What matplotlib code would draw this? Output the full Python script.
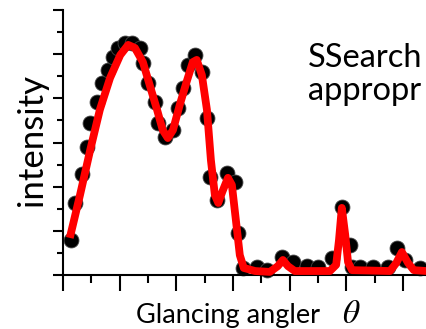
import matplotlib
matplotlib.use('Agg')
import matplotlib.pyplot as plt
from matplotlib.ticker import MultipleLocator

plt.rcParams['font.family'] = ['Lato', 'DejaVu Sans']
plt.rcParams['mathtext.fontset'] = 'stix'

# measured points (glancing angle, intensity)
angle = [0.14, 0.21, 0.34, 0.42, 0.48, 0.60, 0.69, 0.79, 0.88, 0.97, 1.09, 1.22,
         1.36, 1.41, 1.50, 1.62, 1.68, 1.80, 1.94, 2.03, 2.12, 2.21, 2.33, 2.45,
         2.54, 2.59, 2.72, 2.89, 3.04, 3.09, 3.18, 3.42, 3.60, 3.86, 4.06, 4.31,
         4.50, 4.75, 4.92, 5.06, 5.10, 5.24, 5.47, 5.73, 5.89, 6.03, 6.30]
intensity = [0.79, 1.63, 2.29, 2.90, 3.44, 3.92, 4.35, 4.64, 4.94, 5.14, 5.25, 5.25,
             5.14, 4.80, 4.35, 3.92, 3.44, 3.12, 3.28, 3.78, 4.23, 4.75, 4.98, 4.60,
             3.55, 2.22, 1.70, 2.31, 2.11, 0.95, 0.16, 0.18, 0.11, 0.41, 0.29, 0.20,
             0.18, 0.38, 1.54, 0.68, 0.18, 0.18, 0.18, 0.18, 0.61, 0.34, 0.16]

# fitted curve
fit_angle = [0.12, 0.30, 0.48, 0.65, 0.83, 1.01, 1.15, 1.27, 1.41, 1.53, 1.66, 1.76,
             1.85, 1.94, 2.06, 2.19, 2.29, 2.36, 2.45, 2.54, 2.61, 2.68, 2.74, 2.81,
             2.91, 2.98, 3.05, 3.12, 3.19, 3.39, 3.65, 3.79, 3.88, 3.97, 4.09, 4.71,
             4.82, 4.87, 4.92, 4.98, 5.03, 5.10, 5.77, 5.88, 5.98, 6.09, 6.19, 6.41]
fit_intensity = [0.84, 1.81, 2.83, 3.74, 4.46, 4.98, 5.21, 5.14, 4.82, 4.30, 3.74, 3.28,
                 3.10, 3.28, 3.85, 4.41, 4.82, 4.87, 4.53, 3.74, 2.60, 1.81, 1.63, 1.88,
                 2.20, 2.04, 1.25, 0.45, 0.16, 0.09, 0.07, 0.20, 0.34, 0.20, 0.09, 0.09,
                 0.23, 0.79, 1.52, 0.91, 0.29, 0.11, 0.09, 0.27, 0.52, 0.27, 0.11, 0.09]

W, H = 426, 329
fig = plt.figure(figsize=(W / 100, H / 100), dpi=100)
ax = fig.add_axes([63 / W, 54 / H, 363 / W, 265 / H])

ax.scatter(angle, intensity, s=115, c='black', edgecolors='#444444', linewidths=0.6,
           zorder=2, clip_on=False)
ax.plot(fit_angle, fit_intensity, color='#ff0000', lw=5.6, solid_capstyle='butt',
        solid_joinstyle='round', zorder=3, clip_on=False)

ax.set_xlim(0, 363 / 56.67)
ax.set_ylim(0, 6)
ax.spines['top'].set_visible(False)
ax.spines['right'].set_visible(False)
ax.spines['left'].set_linewidth(1.5)
ax.spines['bottom'].set_linewidth(1.5)
ax.xaxis.set_major_locator(MultipleLocator(1))
ax.xaxis.set_minor_locator(MultipleLocator(0.5))
ax.yaxis.set_major_locator(MultipleLocator(1))
ax.yaxis.set_minor_locator(MultipleLocator(0.5))
ax.tick_params(axis='x', which='major', length=11.5, width=1.5, direction='out')
ax.tick_params(axis='x', which='minor', length=5.8, width=1.5, direction='out')
ax.tick_params(axis='y', which='major', length=7.2, width=1.5, direction='out')
ax.tick_params(axis='y', which='minor', length=4.3, width=1.5, direction='out')
ax.set_xticklabels([])
ax.set_yticklabels([])

fig.text(136 / W, 1 - 323 / H, 'Glancing angler', fontsize=19.5,
         ha='left', va='baseline')
fig.text(342 / W, 1 - 323 / H, '$\\theta$', fontsize=24,
         ha='left', va='baseline')
fig.text(42 / W, 1 - 140 / H, 'intensity', fontsize=25, rotation=90,
         ha='center', va='baseline', rotation_mode='anchor')
fig.text(308 / W, 1 - 67 / H, 'SSearch', fontsize=23.5, ha='left', va='baseline')
fig.text(308 / W, 1 - 100 / H, 'appropr', fontsize=23.5, ha='left', va='baseline')

fig.savefig('out.png', dpi=100)
